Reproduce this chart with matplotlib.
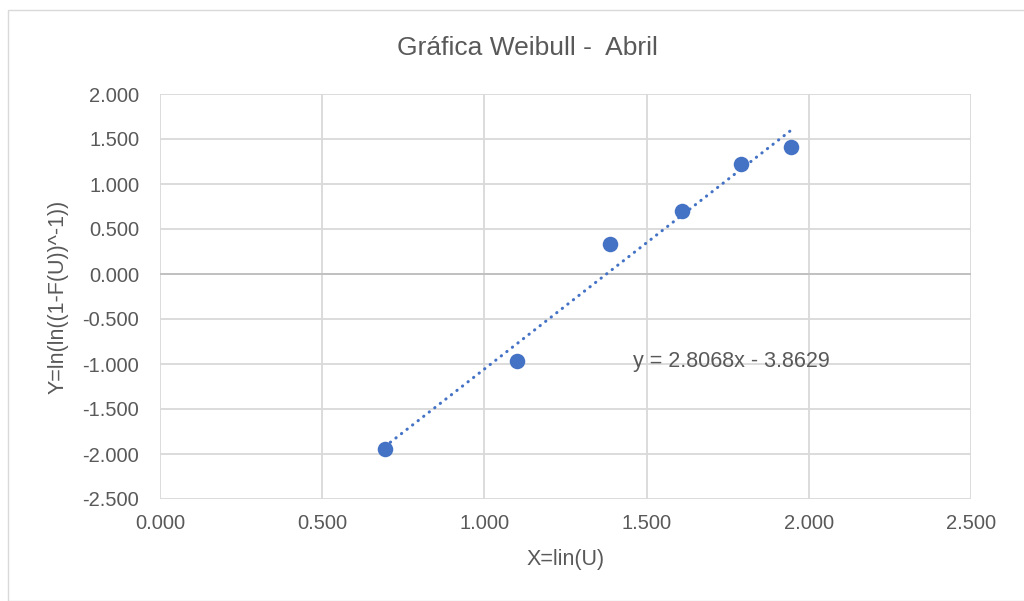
import matplotlib.pyplot as plt
from matplotlib.patches import Rectangle
import numpy as np

# Weibull data (X = ln(U), Y = ln(ln(1/(1-F))))
xVals = [0.693, 1.099, 1.386, 1.609, 1.792, 1.946]
yVals = [-1.945, -0.965, 0.330, 0.705, 1.225, 1.410]
slope = 2.8068
intercept = -3.8629
xTicks = [0.0, 0.5, 1.0, 1.5, 2.0, 2.5]
yTicks = [2.0, 1.5, 1.0, 0.5, 0.0, -0.5, -1.0, -1.5, -2.0, -2.5]

plt.rcParams['font.family'] = ['Liberation Sans', 'DejaVu Sans']
textColor = '#595959'
gridColor = '#d9d9d9'
blue = '#4472C4'

fig = plt.figure(figsize=(10.24, 6.01), dpi=100)
fig.patches.append(Rectangle((8/1024, 0), 1.0, 1 - 10/601, transform=fig.transFigure,
                             fill=False, edgecolor='#d9d9d9', linewidth=1.0))
ax = fig.add_axes([160/1024, 1 - 499/601, (971 - 160)/1024, (499 - 94)/601])

ax.set_xlim(0, 2.5)
ax.set_ylim(-2.5, 2.0)
ax.set_xticks(xTicks)
ax.set_yticks(yTicks)
ax.set_xticklabels([f"{t:.3f}" for t in xTicks])
ax.set_yticklabels([f"{t:.3f}" for t in yTicks])
ax.tick_params(length=0, labelsize=14.5, colors=textColor)
ax.tick_params(axis='y', pad=15)
ax.tick_params(axis='x', pad=11)
ax.grid(True, color=gridColor, linewidth=1.3)
ax.set_axisbelow(True)
for s in ax.spines.values():
  s.set_visible(False)
ax.axhline(0, color='#bfbfbf', linewidth=1.3, zorder=1)

# linear trendline (dotted, like Excel)
xs = np.array([min(xVals), max(xVals)])
ax.plot(xs, slope * xs + intercept, color=blue, linewidth=2.2,
        linestyle=(0, (0.1, 2.2)), dash_capstyle='round', zorder=2)
ax.scatter(xVals, yVals, s=125, color=blue, zorder=3, linewidths=0)

ax.text(1.457, -0.967, f"y = {slope}x - {abs(intercept)}", fontsize=15.5,
        color=textColor, va='center', ha='left')

fig.text(527/1024, 1 - 48/601, "Gráfica Weibull -  Abril", fontsize=19,
         color=textColor, ha='center', va='center')
ax.set_xlabel("X=lin(U)", fontsize=15.5, color=textColor, va='center')
ax.set_ylabel("Y=ln(ln((1-F(U))^-1))", fontsize=15.5, color=textColor, va='center')
ax.xaxis.set_label_coords(0.5, (499 - 560) / 405)
ax.yaxis.set_label_coords((58 - 160) / 811, 0.5)

fig.savefig("out.png", dpi=100)
